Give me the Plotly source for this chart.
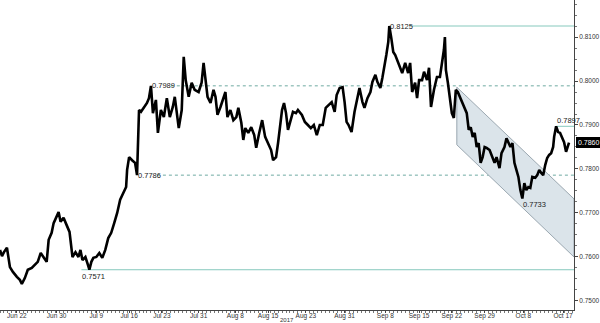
import plotly.graph_objects as go

# ---- data ----
t = [0, 0.3, 0.6, 1.05, 1.5, 1.95, 2.55, 3.0, 3.3, 3.75, 4.2, 4.8, 5.25, 5.7, 6.15, 6.6, 7.05, 7.35, 7.8, 8.1,
     8.55, 8.85, 9.15, 9.6, 10.05, 10.5, 10.95, 11.4, 11.85, 12.15, 12.45, 12.9, 13.2, 13.5, 13.8, 14.1, 14.55, 15.0,
     15.45, 15.9, 16.35, 16.8, 17.25, 17.7, 18.15, 18.6, 19.05, 19.2, 19.5, 19.95, 20.4, 20.7, 20.85, 21.0, 21.3,
     21.75, 22.2, 22.5, 22.8, 23.1, 23.55, 23.85, 24.3, 24.75, 25.2, 25.65, 26.1, 26.4, 26.7, 27.0, 27.45, 27.75,
     28.05, 28.5, 28.95, 29.4, 30.0, 30.45, 30.75, 31.05, 31.35, 31.8, 32.25, 32.55, 32.85, 33.3, 33.75, 34.05, 34.35,
     34.8, 35.25, 35.7, 36.0, 36.45, 36.75, 37.05, 37.5, 37.95, 38.4, 38.7, 39.15, 39.6, 40.05, 40.5, 40.95, 41.25,
     41.7, 42.0, 42.3, 42.6, 42.9, 43.2, 43.5, 43.95, 44.25, 44.7, 45.0, 45.6, 46.05, 46.5, 46.95, 47.4, 47.85, 48.3,
     48.75, 49.2, 49.65, 50.1, 50.55, 50.85, 51.3, 51.75, 52.05, 52.35, 52.65, 53.1, 53.55, 54.0, 54.3, 54.75, 55.05,
     55.5, 55.95, 56.25, 56.7, 57.0, 57.45, 57.75, 58.05, 58.35, 58.65, 58.8, 59.1, 59.4, 59.7, 60.0, 60.45, 60.75,
     61.2, 61.65, 61.95, 62.25, 62.7, 63.0, 63.3, 63.75, 64.05, 64.5, 64.8, 65.1, 65.55, 66.0, 66.45, 66.75, 67.05,
     67.2, 67.35, 67.65, 67.95, 68.25, 68.55, 68.85, 69.15, 69.45, 69.9, 70.2, 70.5, 70.8, 71.1, 71.4, 71.7, 72.0,
     72.3, 72.6, 72.9, 73.2, 73.5, 73.95, 74.4, 74.7, 75.0, 75.45, 75.75, 76.2, 76.5, 76.8, 77.1, 77.4, 77.7, 78.0,
     78.3, 78.6, 78.9, 79.2, 79.5, 79.8, 80.1, 80.4, 80.85, 81.15, 81.45, 81.75, 82.05, 82.35, 82.65, 82.95, 83.25,
     83.55, 83.7, 84.0, 84.3, 84.6, 84.9, 85.2, 85.5, 85.8, 85.95]
price = [0.7616, 0.7602, 0.7611, 0.7621, 0.7577, 0.7566, 0.7555, 0.7548, 0.7539, 0.7552, 0.7571, 0.7575, 0.7582,
         0.7589, 0.7609, 0.7598, 0.7589, 0.7639, 0.7655, 0.7677, 0.7691, 0.7702, 0.7680, 0.7689, 0.7673, 0.7657,
         0.7600, 0.7611, 0.7600, 0.7616, 0.7593, 0.7600, 0.7586, 0.7571, 0.7589, 0.7598, 0.7600, 0.7609, 0.7598,
         0.7616, 0.7643, 0.7655, 0.7677, 0.7700, 0.7730, 0.7745, 0.7759, 0.7798, 0.7827, 0.7820, 0.7814, 0.7786,
         0.7895, 0.7934, 0.7930, 0.7939, 0.7950, 0.7961, 0.7989, 0.7927, 0.7957, 0.7882, 0.7934, 0.7918, 0.7961,
         0.7918, 0.7941, 0.7964, 0.7934, 0.7893, 0.7934, 0.8055, 0.8002, 0.7964, 0.7996, 0.7980, 0.7975, 0.7996,
         0.8041, 0.8002, 0.7964, 0.7950, 0.7980, 0.7964, 0.7923, 0.7941, 0.7964, 0.7975, 0.7918, 0.7934, 0.7911,
         0.7918, 0.7939, 0.7905, 0.7866, 0.7893, 0.7882, 0.7895, 0.7877, 0.7848, 0.7882, 0.7911, 0.7873, 0.7859,
         0.7843, 0.7820, 0.7827, 0.7859, 0.7905, 0.7934, 0.7950, 0.7927, 0.7889, 0.7918, 0.7930, 0.7927, 0.7934,
         0.7923, 0.7907, 0.7900, 0.7893, 0.7900, 0.7877, 0.7900, 0.7900, 0.7939, 0.7946, 0.7952, 0.7930, 0.7968,
         0.7984, 0.7986, 0.7952, 0.7907, 0.7900, 0.7884, 0.7930, 0.7961, 0.7984, 0.7952, 0.7939, 0.7961, 0.7975,
         0.7998, 0.8014, 0.7998, 0.7984, 0.8007, 0.8030, 0.8059, 0.8089, 0.8125, 0.8098, 0.8066, 0.8059, 0.8048,
         0.8032, 0.8018, 0.8041, 0.8018, 0.8041, 0.7975, 0.7996, 0.7961, 0.8002, 0.8002, 0.8021, 0.8002, 0.8030,
         0.7941, 0.7980, 0.8009, 0.8009, 0.8041, 0.8071, 0.8100, 0.8025, 0.7996, 0.7964, 0.7927, 0.7916, 0.7980,
         0.7975, 0.7964, 0.7950, 0.7941, 0.7927, 0.7889, 0.7895, 0.7873, 0.7882, 0.7850, 0.7859, 0.7814, 0.7827,
         0.7850, 0.7848, 0.7843, 0.7827, 0.7814, 0.7827, 0.7802, 0.7836, 0.7850, 0.7870, 0.7861, 0.7850, 0.7859,
         0.7814, 0.7798, 0.7782, 0.7752, 0.7733, 0.7768, 0.7752, 0.7759, 0.7757, 0.7782, 0.7780, 0.7786, 0.7798,
         0.7791, 0.7786, 0.7809, 0.7825, 0.7832, 0.7836, 0.7850, 0.7873, 0.7897, 0.7884, 0.7882, 0.7870, 0.7861,
         0.7839, 0.7857, 0.7860]

tick_pos = [2.55, 8.55, 14.55, 19.5, 24.45, 30.0, 35.55, 40.5, 46.2, 52.05, 58.2, 63.3, 68.25, 73.2, 79.05, 85.05]
tick_text = ["Jun 22", "Jun 30", "Jul 9", "Jul 16", "Jul 23", "Jul 31", "Aug 8", "Aug 15", "Aug 23", "Aug 31",
             "Sep 8", "Sep 15", "Sep 22", "Sep 29", "Oct 8", "Oct 17"]
y_ticks = [0.75, 0.76, 0.77, 0.78, 0.79, 0.80, 0.81]
year_label = "2017"
year_pos = 43.4

# key levels: value, start (days), style
level_values = [0.8125, 0.7989, 0.7786, 0.7571, 0.7733, 0.7897]
level_start = [58.8, 22.8, 20.7, 12.3, 78.9, 84.0]
level_dashed = [False, True, True, False, False, False]
level_label_pos = ["mid", "mid", "mid", "below", "below", "above"]

# descending channel corners
channel_t = [69.0, 86.7]
channel_upper = [0.7986, 0.7732]
channel_lower = [0.7855, 0.7600]

last_price = 0.7860
X_MAX = 86.7
Y_RANGE = [0.74795, 0.81841]

FONT = "Liberation Sans"
TEAL = "#86c9bd"
DASH = "#6faaa2"

fig = go.Figure()

# channel
fig.add_trace(go.Scatter(
    x=[channel_t[0], channel_t[1], channel_t[1], channel_t[0], channel_t[0]],
    y=[channel_upper[0], channel_upper[1], channel_lower[1], channel_lower[0], channel_upper[0]],
    mode="lines", fill="toself", fillcolor="#dbe4ea",
    line=dict(color="#9aa7b0", width=1), hoverinfo="skip", showlegend=False))

# price
fig.add_trace(go.Scatter(x=t, y=price, mode="lines", line=dict(color="black", width=2.6),
                         showlegend=False))

shapes = []
annotations = []
for v, s, d, lp in zip(level_values, level_start, level_dashed, level_label_pos):
    x0 = s + 3.0 if lp == "mid" else s
    shapes.append(dict(type="line", xref="x", yref="y", x0=x0, x1=X_MAX, y0=v, y1=v, layer="below",
                       line=dict(color=DASH if d else TEAL, width=1, dash="3px,3px" if d else "solid")))
    if lp == "mid":
        ya, ys = "middle", 0
    elif lp == "below":
        ya, ys = "top", -1
    else:
        ya, ys = "bottom", 0
    annotations.append(dict(x=s, y=v, xref="x", yref="y", text=f"{v:.4f}", showarrow=False,
                            xanchor="left", yanchor=ya, yshift=ys,
                            font=dict(family=FONT, size=7.5, color="#222"), borderpad=0))

annotations.append(dict(x=1, y=last_price, xref="paper", yref="y", text=f"{last_price:.4f}",
                        showarrow=False, xanchor="left", yanchor="middle", xshift=2,
                        bgcolor="black", bordercolor="black", borderpad=1,
                        font=dict(family=FONT, size=7, color="white")))
annotations.append(dict(x=year_pos, y=-13 / 310, xref="x", yref="paper", text=year_label, showarrow=False,
                        xanchor="center", yanchor="bottom", yshift=-1, borderpad=0,
                        font=dict(family=FONT, size=6, color="#333")))

fig.update_layout(
    width=600, height=323,
    margin=dict(l=0, r=22, t=0, b=13),
    paper_bgcolor="white", plot_bgcolor="white",
    shapes=shapes, annotations=annotations,
    xaxis=dict(range=[0, X_MAX], tickvals=tick_pos, ticktext=tick_text, showgrid=False, zeroline=False,
               showline=True, linecolor="#444", linewidth=1, ticks="outside", ticklen=2, tickcolor="#444",
               ticklabelstandoff=-3,
               tickfont=dict(family=FONT, size=6.5, color="#333"),
               minor=dict(dtick=0.6, ticks="outside", ticklen=2, tickcolor="#777")),
    yaxis=dict(range=Y_RANGE, side="right", tickvals=y_ticks, ticktext=[f"{v:.4f}" for v in y_ticks],
               showgrid=False, zeroline=False, showline=True, linecolor="#444", linewidth=1,
               ticks="outside", ticklen=3, tickcolor="#444",
               tickfont=dict(family=FONT, size=6.5, color="#333"),
               minor=dict(dtick=0.0025, ticks="outside", ticklen=2, tickcolor="#777")),
)

fig.write_html("out.html")
